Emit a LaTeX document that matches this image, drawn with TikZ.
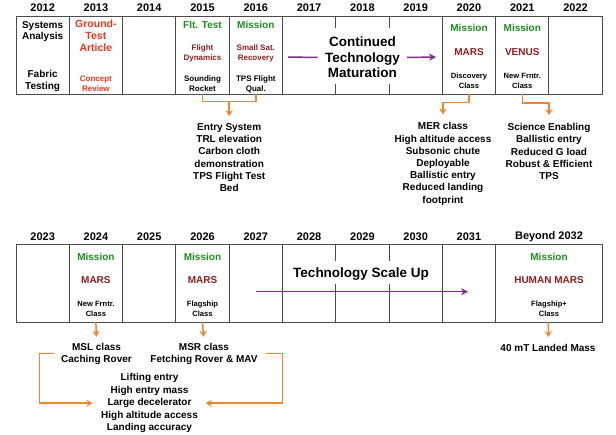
\documentclass[tikz,border=0pt]{standalone}
\usepackage{fontspec}
\setmainfont{Liberation Sans}
\usetikzlibrary{arrows.meta}
\definecolor{grn}{RGB}{30,140,30}
\definecolor{dred}{RGB}{145,30,30}
\definecolor{ored}{RGB}{240,55,30}
\definecolor{org}{RGB}{235,135,45}
\definecolor{purp}{RGB}{125,45,135}
\definecolor{frame}{RGB}{75,75,75}
\begin{document}
\begin{tikzpicture}[x=1pt,y=-1pt,
 yr/.style={font=\fontsize{11}{12}\selectfont\bfseries, inner sep=0},
 hd/.style={font=\fontsize{10}{11.5}\selectfont\bfseries, align=center, inner sep=0},
 sm/.style={font=\fontsize{8}{10}\selectfont\bfseries, align=center, inner sep=0},
 body/.style={font=\fontsize{10}{12.2}\selectfont\bfseries, align=center, inner sep=0},
 big/.style={font=\fontsize{13.5}{15.5}\selectfont\bfseries, align=center, inner sep=0},
 fr/.style={draw=frame, line width=0.9pt},
 oline/.style={draw=org, line width=1.5pt},
 oarr/.style={draw=org, line width=1.5pt, -{Stealth[length=6pt,width=7pt]}},
 pline/.style={draw=purp, line width=1.5pt},
 parr/.style={draw=purp, line width=1.5pt, -{Stealth[length=7pt,width=7pt]}},
]
\useasboundingbox[fill=white] (0,0) rectangle (616,434);

% ---------- top row ----------
\foreach \y [count=\i from 0] in {2012,2013,2014,2015,2016,2017,2018,2019,2020,2021,2022}
  \node[yr] (y\y) at ({16+53.29*(\i+0.5)},8) {\y};
\draw[fr] (16,16) rectangle (602,94);
\foreach \k in {1,2,3,4,5,8,9,10} \draw[fr] ({16+53.29*\k},16) -- ({16+53.29*\k},94);
\foreach \k in {6,7} {\draw[fr] ({16+53.29*\k},16) -- ({16+53.29*\k},28);
                      \draw[fr] ({16+53.29*\k},84) -- ({16+53.29*\k},94);}

\node[hd] (sa) at (42.6,31.5) {Systems\\Analysis};
\node[hd, font=\fontsize{10}{12}\selectfont\bfseries] (ft) at (42.6,81) {Fabric\\Testing};
\node[hd, text=ored, font=\fontsize{10.5}{12}\selectfont\bfseries] (gt) at (95.9,36) {Ground-\\Test\\Article};
\node[sm, text=ored] (cr) at (95.9,84) {Concept\\Review};
\node[hd, text=grn] (flt) at (202.5,25) {Flt. Test};
\node[sm, text=dred] (fd) at (202.5,53) {Flight\\Dynamics};
\node[sm] (sr) at (202.5,84) {Sounding\\Rocket};
\node[hd, text=grn] (m16) at (255.8,25) {Mission};
\node[sm, text=dred] (ss) at (255.8,53) {Small Sat.\\Recovery};
\node[sm] (tps) at (255.8,84) {TPS Flight\\Qual.};
\node[big, minimum width=89pt] (ctm) at (362.4,57.5) {Continued\\Technology\\Maturation};
\node[hd, text=grn] (m20) at (469,28) {Mission};
\node[hd, text=dred] (mars20) at (469,52) {MARS};
\node[sm, font=\fontsize{7.6}{10}\selectfont\bfseries] (dc) at (469,81) {Discovery\\Class};
\node[hd, text=grn] (m21) at (522.3,28) {Mission};
\node[hd, text=dred] (ven) at (522.3,52) {VENUS};
\node[sm, font=\fontsize{7.6}{10}\selectfont\bfseries] (nf21) at (522.3,81) {New Frntr.\\Class};

\coordinate (p1) at (288,57);
\coordinate (p2) at (436,57);
\draw[pline] (p1) -- (ctm.west);
\draw[parr] (ctm.east) -- (p2);

% orange connectors top
\coordinate (b15) at (202.5,94);
\coordinate (b16) at (255.8,94);
\coordinate (br1) at (229.2,101.5);
\node[body] (e1) at (229.2,157.5) {Entry System\\TRL elevation\\Carbon cloth\\demonstration\\TPS Flight Test\\Bed};
\draw[oline] (b15) |- (br1) -| (b16);
\draw[oarr, shorten >=7pt] (br1) -- (e1.north);

\coordinate (b20) at (469,94);
\node[body] (m1) at (443,164) {MER class\\High altitude access\\Subsonic chute\\Deployable\\Ballistic entry\\Reduced landing\\footprint};
\draw[oarr, shorten >=8pt] (b20) |- ([yshift=20pt]m1.north) -- (m1.north);

\coordinate (b21) at (522.3,94);
\node[body] (v1) at (549,151.5) {Science Enabling\\Ballistic entry\\Reduced G load\\Robust \& Efficient\\TPS};
\draw[oarr, shorten >=8pt] (b21) |- ([yshift=20pt]v1.north) -- (v1.north);

% ---------- bottom row ----------
\foreach \y [count=\i from 0] in {2023,2024,2025,2026,2027,2028,2029,2030,2031}
  \node[yr] (y\y) at ({16+53.29*(\i+0.5)},236.7) {\y};
\node[yr] (yb) at (549,236.7) {Beyond 2032};
\draw[fr] (16,244) rectangle (602,322);
\foreach \k in {1,2,3,4,5,8,9} \draw[fr] ({16+53.29*\k},244) -- ({16+53.29*\k},322);
\foreach \k in {6,7} {\draw[fr] ({16+53.29*\k},244) -- ({16+53.29*\k},261);
                      \draw[fr] ({16+53.29*\k},284) -- ({16+53.29*\k},322);}

\node[hd, text=grn] (m24) at (95.9,256.7) {Mission};
\node[hd, text=dred] (mars24) at (95.9,280) {MARS};
\node[sm, font=\fontsize{7.6}{10}\selectfont\bfseries] (nf24) at (95.9,309) {New Frntr.\\Class};
\node[hd, text=grn] (m26) at (202.5,256.7) {Mission};
\node[hd, text=dred] (mars26) at (202.5,280) {MARS};
\node[sm, font=\fontsize{7.6}{10}\selectfont\bfseries] (fc26) at (202.5,309) {Flagship\\Class};
\node[big] (tsu) at (361,274) {Technology Scale Up};
\node[hd, text=grn] (mb) at (549,256.7) {Mission};
\node[hd, text=dred] (hm) at (549,280) {HUMAN MARS};
\node[sm, font=\fontsize{7.6}{10}\selectfont\bfseries] (fpc) at (549,309) {Flagship+\\Class};

\coordinate (q1) at (256,291.7);
\coordinate (q2) at (468,291.7);
\draw[parr] (q1) -- (q2);

% bottom connectors
\coordinate (b24) at (95.9,322);
\coordinate (b26) at (202.5,322);
\coordinate (bb) at (548.5,322);
\node[body, font=\fontsize{10}{12}\selectfont\bfseries] (msl) at (96.5,353.7) {MSL class\\Caching Rover};
\node[body, font=\fontsize{10}{12}\selectfont\bfseries] (msr) at (204,353.7) {MSR class\\Fetching Rover \& MAV};
\node[body, font=\fontsize{10}{12.4}\selectfont\bfseries] (lift) at (149.5,403.2) {Lifting entry\\High entry mass\\Large decelerator\\High altitude access\\Landing accuracy};
\node[body] (mass) at (548,348) {40 mT Landed Mass};
\draw[oarr, shorten >=6pt] (b24) -- (msl.north);
\draw[oarr, shorten >=6pt] (b26) -- (msr.north);
\draw[oarr, shorten >=7pt] (bb) -- (mass.north);
\draw[oarr, shorten <=6.7pt, shorten >=8.5pt] (msl.west) -- ++(-21.7,0) |- (lift.west);
\draw[oarr, shorten <=8.7pt, shorten >=7.7pt] (msr.east) -- ++(24.7,0) |- (lift.east);
\end{tikzpicture}
\end{document}
